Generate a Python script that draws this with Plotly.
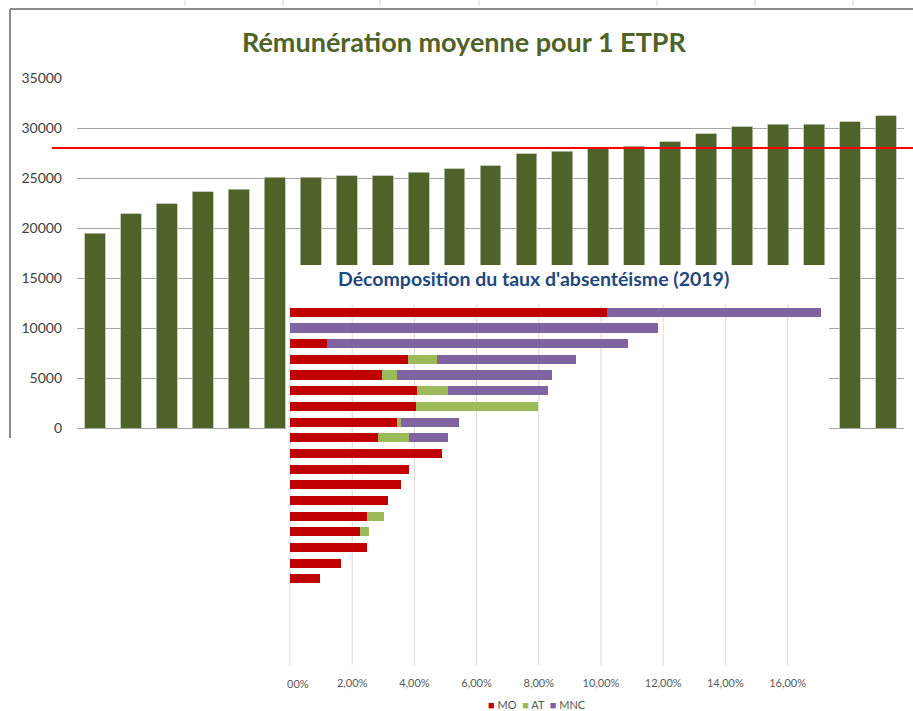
import plotly.graph_objects as go

W, H = 913, 711

# main chart: average pay for 1 ETPR, one bar per unit (sorted ascending)
units = [str(i) for i in range(1, 24)]
remuneration = [19470, 21450, 22450, 23650, 23900, 25100, 25100, 25250, 25250, 25600,
                25950, 26250, 27450, 27700, 27950, 28200, 28650, 29450, 30150, 30400,
                30400, 30650, 31250]
reference_value = 28000
pay_ticks = [0, 5000, 10000, 15000, 20000, 25000, 30000, 35000]

# inset: breakdown of absenteeism rate (2019), in %
mo = [10.18, 0, 1.18, 3.80, 2.96, 4.09, 4.06, 3.43, 2.84, 4.89, 3.82, 3.58, 3.14,
      2.49, 2.24, 2.47, 1.64, 0.97]
at = [0, 0, 0, 0.92, 0.49, 0.99, 3.90, 0.13, 1.00, 0, 0, 0, 0, 0.52, 0.30, 0, 0, 0]
mnc = [6.89, 11.84, 9.68, 4.47, 4.96, 3.21, 0, 1.88, 1.24, 0, 0, 0, 0, 0, 0, 0, 0, 0]
n_slots = 23
pct_ticks = [0, 2, 4, 6, 8, 10, 12, 14, 16]
pct_labels = ["", "2,00%", "4,00%", "6,00%", "8,00%", "10,00%", "12,00%", "14,00%", "16,00%"]

OLIVE = "#4F6228"
COLORS = {"MO": "#C00000", "AT": "#9BBB59", "MNC": "#8064A2"}


def px(x):
    return x / W


def py(y):
    return 1 - y / H


def nz(values):
    return [v if v else None for v in values]


fig = go.Figure()

fig.add_trace(go.Bar(x=units, y=remuneration, marker=dict(color=OLIVE, line=dict(color="#b8bfae", width=0.8)),
                     xaxis="x", yaxis="y", showlegend=False))

rows = list(range(len(mo)))
for name, vals in [("MO", mo), ("AT", at), ("MNC", mnc)]:
    fig.add_trace(go.Bar(x=nz(vals), y=rows, orientation="h", name=name,
                         marker=dict(color=COLORS[name], line=dict(width=0)),
                         xaxis="x2", yaxis="y2", showlegend=False))

# inset pixel geometry: 0% at x=290, 31.1 px per 1 %, rows 15.67 px apart
unit_px = 31.1
row_px = 15.67
x2_range = [(286 - 290) / unit_px, (829 - 290) / unit_px]
y2_range = [n_slots - 0.5, -0.5 - (304.5 - 265) / row_px]

fig.update_layout(
    template="none",
    width=W, height=H, autosize=False,
    margin=dict(l=0, r=0, t=0, b=0, pad=0, autoexpand=False),
    paper_bgcolor="white", plot_bgcolor="white",
    font=dict(family="Lato", color="#404040"),
    barmode="stack", bargap=0.42,
    xaxis=dict(domain=[px(77), px(904)], showticklabels=False, showgrid=False, automargin=False,
               zeroline=False, showline=False, ticks=""),
    yaxis=dict(domain=[py(428), py(78)], range=[0, 35000], tickvals=pay_ticks, tickformat="d",
               gridcolor="#a6a6a6", gridwidth=1, zeroline=True, zerolinecolor="#a6a6a6",
               zerolinewidth=1, showline=False, ticks="", ticklabelstandoff=14, automargin=False,
               tickfont=dict(size=14, color="#404040")),
    xaxis2=dict(domain=[px(286), px(829)], anchor="y2", range=x2_range, automargin=False,
                tickvals=pct_ticks, ticktext=pct_labels, showgrid=False, zeroline=False,
                showline=False, ticks="", ticklabelstandoff=10,
                tickfont=dict(size=11, color="#595959")),
    yaxis2=dict(domain=[py(665), py(265)], anchor="x2", range=y2_range, automargin=False,
                showticklabels=False, showgrid=False, zeroline=False, showline=False, ticks=""),
)

shapes = []
# inset vertical gridlines
for t in pct_ticks:
    shapes.append(dict(type="line", xref="x2", yref="y2", x0=t, x1=t, y0=-0.5, y1=n_slots - 0.5,
                       layer="below", line=dict(color="#d9d9d9", width=1)))
# reference line
shapes.append(dict(type="line", xref="paper", yref="y", x0=px(52), x1=1,
                   y0=reference_value, y1=reference_value, line=dict(color="#FF0000", width=2)))
# outer frame of the main chart
shapes.append(dict(type="line", xref="paper", yref="paper", x0=px(10), x1=1, y0=py(9), y1=py(9),
                   line=dict(color="#8c8c8c", width=2)))
shapes.append(dict(type="line", xref="paper", yref="paper", x0=px(10), x1=px(10), y0=py(9), y1=py(438),
                   line=dict(color="#8c8c8c", width=2)))
# faint sheet column separators above the frame
for cx in [185, 283, 380, 479, 657, 755, 853]:
    shapes.append(dict(type="line", xref="paper", yref="paper", x0=px(cx), x1=px(cx), y0=1, y1=py(6),
                       line=dict(color="#d4d4d4", width=1)))
fig.update_layout(shapes=shapes)

legend_text = "  ".join(
    '<span style="color:%s">■</span> %s' % (COLORS[k], k) for k in ["MO", "AT", "MNC"])

fig.update_layout(annotations=[
    dict(text="<b>Rémunération moyenne pour 1 ETPR</b>", xref="paper", yref="paper",
         x=px(465), y=py(41), xanchor="center", yanchor="middle", showarrow=False,
         font=dict(size=27, color=OLIVE, family="Lato")),
    dict(text="<b>Décomposition du taux d'absentéisme (2019)</b>", xref="paper", yref="paper",
         x=px(533), y=py(278), xanchor="center", yanchor="middle", showarrow=False,
         font=dict(size=19.5, color="#1F497D", family="Lato")),
    dict(text="00%", xref="paper", yref="paper", x=px(285), y=py(683), xanchor="left",
         yanchor="middle", showarrow=False, font=dict(size=11, color="#595959")),
    dict(text=legend_text, xref="paper", yref="paper", x=px(537), y=py(704), xanchor="center",
         yanchor="middle", showarrow=False, font=dict(size=11, color="#595959")),
])

fig.write_html("out.html", config={"displayModeBar": False},
               post_script="document.body.style.margin='0';")
